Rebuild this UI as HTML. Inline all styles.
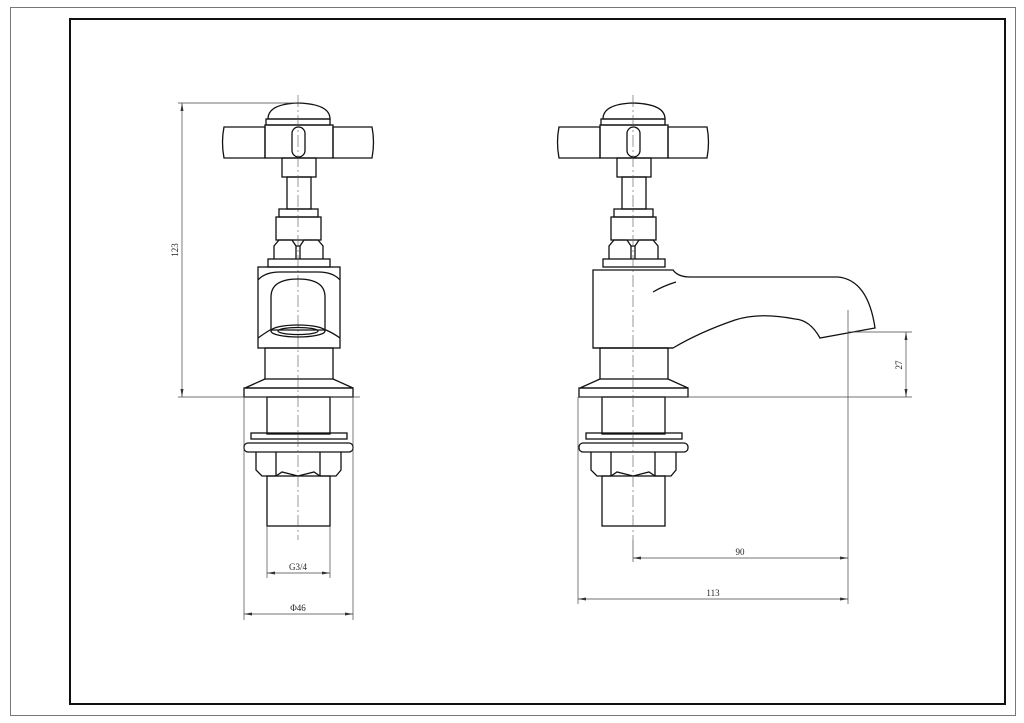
<!DOCTYPE html>
<html><head><meta charset="utf-8"><style>
html,body{margin:0;padding:0;background:#fff;}
svg{display:block;}
text{font-family:"Liberation Serif",serif;font-size:9px;fill:#222;}
</style></head><body>
<svg width="1024" height="723" viewBox="0 0 1024 723" xmlns="http://www.w3.org/2000/svg">
<defs>
<marker id="a" markerWidth="8" markerHeight="6" refX="8" refY="3" orient="auto-start-reverse" markerUnits="userSpaceOnUse"><path d="M0,1.5 L8,3 L0,4.5z" fill="#333"/></marker>
<g id="tap" fill="none" stroke="#111" stroke-width="1.3">
 <!-- cap -->
 <path d="M268,119 Q268,104 298,103 Q330,104 330,119 Z"/>
 <rect x="266" y="119" width="64" height="6"/>
 <!-- handle -->
 <path d="M265,127 L224,127 Q221,142 224,158 L265,158 Z"/>
 <path d="M333,127 L372,127 Q375,142 372,158 L333,158 Z"/>
 <rect x="265" y="125" width="68" height="33"/>
 <rect x="292" y="127" width="13" height="30" rx="6.5"/>
 <!-- stem -->
 <rect x="282" y="158" width="34" height="19"/>
 <rect x="287" y="177" width="24" height="32"/>
 <rect x="279" y="209" width="39" height="8"/>
 <rect x="276" y="217" width="45" height="23"/>
 <path d="M274,259 L274,246 L279,240 L292,240 L296,246 L296,259 M300,259 L300,246 L304,240 L318,240 L323,246 L323,259 M296,246 L300,246"/>
 <rect x="268" y="259" width="62" height="8"/>
 <!-- neck + base -->
 <rect x="265" y="348" width="68" height="31"/>
 <path d="M265,379 L245,388 L353,388 L333,379"/>
 <rect x="244" y="388" width="109" height="9"/>
 <rect x="267" y="397" width="63" height="37"/>
 <rect x="251" y="433" width="96" height="6"/>
 <rect x="244" y="443" width="109" height="9" rx="4"/>
 <path d="M256,452 L256,470 L262,476 L276,476 L282,472 L298,476 L314,472 L320,476 L336,476 L341,470 L341,452 M276,452 L276,476 M320,452 L320,476"/>
 <rect x="267" y="476" width="63" height="50"/>
 <line x1="298" y1="95" x2="298" y2="540" stroke="#555" stroke-width="0.6" stroke-dasharray="12,3,2,3"/>
</g>
</defs>
<rect x="0" y="0" width="1024" height="723" fill="#fff"/>
<rect x="10.5" y="7.5" width="1005" height="708" fill="none" stroke="#777" stroke-width="1"/>
<rect x="70" y="19" width="935" height="685" fill="none" stroke="#111" stroke-width="2"/>

<use href="#tap"/>
<use href="#tap" transform="translate(335,0)"/>

<!-- left body front -->
<g fill="none" stroke="#111" stroke-width="1.3">
 <rect x="258" y="267" width="82" height="81"/>
 <path d="M258,280 Q265,272 280,272 L318,272 Q333,272 340,280"/>
 <path d="M258,338 Q265,333 270,330 L326,330 Q333,333 340,338"/>
 <path d="M271,330 L271,297 Q271,279 298,279 Q325,279 325,297 L325,330"/>
 <ellipse cx="298" cy="331" rx="27" ry="6"/>
 <ellipse cx="298" cy="331" rx="20" ry="3.5"/>
</g>
<!-- right body side with spout -->
<g fill="none" stroke="#111" stroke-width="1.3">
 <path d="M593,348 L593,270 L673,270 Q678,277 690,277 L838,277 Q868,280 875,328 L820,338 Q810,320 795,319 Q760,312 735,320 Q700,332 673,348 Z"/>
 <path d="M653,292 Q663,286 676,282"/>
 <line x1="593" y1="348" x2="673" y2="348"/>
</g>

<!-- dimensions -->
<g stroke="#444" stroke-width="0.7" fill="none">
 <line x1="178" y1="103" x2="300" y2="103"/>
 <line x1="178" y1="397" x2="360" y2="397"/>
 <line x1="182" y1="103" x2="182" y2="397" marker-start="url(#a)" marker-end="url(#a)"/>
 <line x1="267" y1="526" x2="267" y2="578"/>
 <line x1="330" y1="526" x2="330" y2="578"/>
 <line x1="267" y1="573" x2="330" y2="573" marker-start="url(#a)" marker-end="url(#a)"/>
 <line x1="244" y1="397" x2="244" y2="620"/>
 <line x1="353" y1="397" x2="353" y2="620"/>
 <line x1="244" y1="614" x2="353" y2="614" marker-start="url(#a)" marker-end="url(#a)"/>

 <line x1="578" y1="397" x2="912" y2="397"/>
 <line x1="848" y1="332" x2="912" y2="332"/>
 <line x1="906" y1="332" x2="906" y2="397" marker-start="url(#a)" marker-end="url(#a)"/>
 <line x1="848" y1="310" x2="848" y2="604"/>
 <line x1="633" y1="540" x2="633" y2="562"/>
 <line x1="578" y1="397" x2="578" y2="604"/>
 <line x1="633" y1="558" x2="848" y2="558" marker-start="url(#a)" marker-end="url(#a)"/>
 <line x1="578" y1="599" x2="848" y2="599" marker-start="url(#a)" marker-end="url(#a)"/>
</g>
<text x="178" y="250" text-anchor="middle" transform="rotate(-90 178 250)">123</text>
<text x="298" y="570" text-anchor="middle">G3/4</text>
<text x="298" y="611" text-anchor="middle">Φ46</text>
<text x="902" y="365" text-anchor="middle" transform="rotate(-90 902 365)">27</text>
<text x="740" y="555" text-anchor="middle">90</text>
<text x="713" y="596" text-anchor="middle">113</text>
</svg>
</body></html>
